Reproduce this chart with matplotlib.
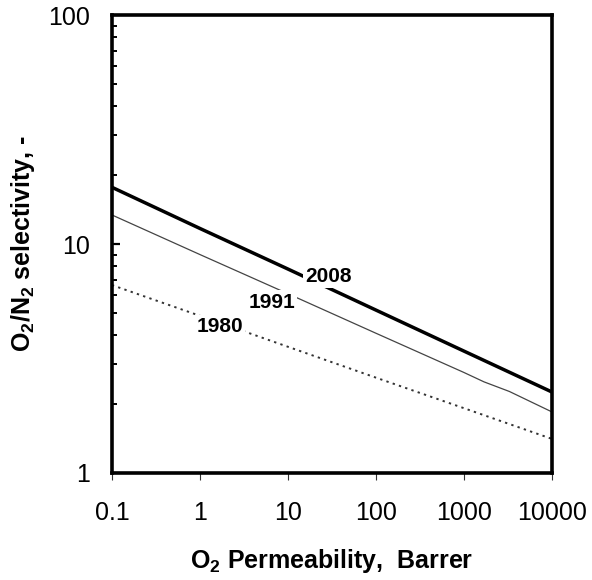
import numpy as np
import matplotlib
matplotlib.use("Agg")
import matplotlib.pyplot as plt
from matplotlib.ticker import FixedLocator, FixedFormatter, LogLocator, NullFormatter

plt.rcParams['font.family'] = ['Liberation Sans', 'DejaVu Sans']
plt.rcParams['mathtext.fontset'] = 'custom'
plt.rcParams['mathtext.rm'] = 'Liberation Sans:bold'
plt.rcParams['mathtext.it'] = 'Liberation Sans:bold'
plt.rcParams['mathtext.bf'] = 'Liberation Sans:bold'

# upper bounds
perm_2008 = [0.1, 1, 10, 100, 1000, 10000]
sel_2008 = [17.7, 11.7, 7.78, 5.15, 3.41, 2.26]

perm_1991 = [0.1, 1, 10, 100, 1000, 1700, 3300, 10000]
sel_1991 = [13.4, 9.0, 6.07, 4.08, 2.75, 2.5, 2.27, 1.85]

perm_1980 = [0.1, 1, 10, 100, 1000, 10000]
sel_1980 = [6.62, 4.86, 3.56, 2.61, 1.92, 1.41]

labels = ["2008", "1991", "1980"]
label_x = [29.2, 6.6, 1.69]
label_y = [7.24, 5.58, 4.35]

xticks = [0.1, 1, 10, 100, 1000, 10000]
xticklabels = ["0.1", "1", "10", "100", "1000", "10000"]
yticks = [1, 10, 100]
yticklabels = ["1", "10", "100"]

fig = plt.figure(figsize=(5.92, 5.8), dpi=100)
ax = fig.add_axes([0.189, 0.1845, 0.743, 0.7895])

ax.plot(perm_2008, sel_2008, color='black', lw=2.5, solid_capstyle='butt')
ax.plot(perm_1991, sel_1991, color='#444444', lw=0.9)
ax.plot(perm_1980, sel_1980, color='#333333', lw=1.4, ls=(0, (1.2, 2.2)))

for t, lx, ly in zip(labels, label_x, label_y):
    ax.text(lx, ly, t, fontsize=15, fontweight='bold', ha='center', va='center',
            bbox=dict(facecolor='white', edgecolor='none', pad=1.5))

ax.set_xscale('log')
ax.set_yscale('log')
ax.set_xlim(0.1, 10000)
ax.set_ylim(1, 100)

ax.xaxis.set_major_locator(FixedLocator(xticks))
ax.xaxis.set_major_formatter(FixedFormatter(xticklabels))
ax.xaxis.set_minor_locator(FixedLocator([]))
ax.yaxis.set_major_locator(FixedLocator(yticks))
ax.yaxis.set_major_formatter(FixedFormatter(yticklabels))
ax.yaxis.set_minor_locator(LogLocator(base=10, subs=np.arange(2, 10)))
ax.yaxis.set_minor_formatter(NullFormatter())

ax.tick_params(axis='x', which='major', direction='out', length=5, width=0.8,
               color='#333333', labelsize=18, pad=15)
ax.tick_params(axis='y', which='major', direction='in', length=6, width=1.6,
               labelsize=18, pad=16)
ax.tick_params(axis='y', which='minor', direction='in', length=3.5, width=1.4)

for s in ax.spines.values():
    s.set_linewidth(2.6)

ax.set_xlabel("O$_2$ Permeability,  Barrer", fontsize=18, fontweight='bold', labelpad=16)
ax.set_ylabel("O$_2$/N$_2$ selectivity, -", fontsize=18, fontweight='bold', labelpad=8)

fig.savefig("out.png", dpi=100)
